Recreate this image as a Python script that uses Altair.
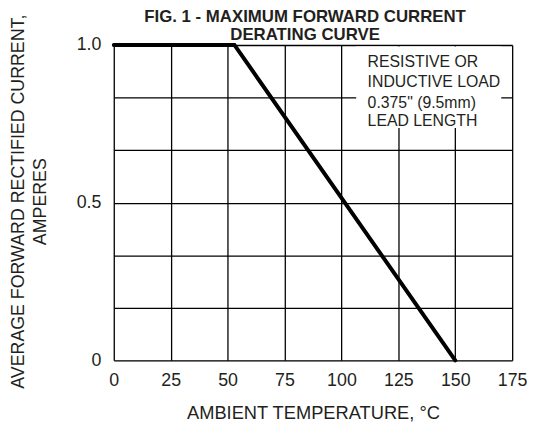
import altair as alt
import pandas as pd

# Derating curve points
temp = [0, 53, 150]
current = [1.0, 1.0, 0.0]

x_ticks = [0, 25, 50, 75, 100, 125, 150, 175]
y_grid = [0, 1/6, 2/6, 0.5, 4/6, 5/6, 1.0]

note_lines = ["RESISTIVE OR", "INDUCTIVE LOAD", "0.375\" (9.5mm)", "LEAD LENGTH"]
note_y = [0.945, 0.883, 0.815, 0.759]
note_x = [111.5] * 4

box_x = [106.5]
box_x2 = [170.2]
box_y = [0.995]
box_y2 = [0.737]

FONT = "Liberation Sans"
TXT = "#231f20"

curve_df = pd.DataFrame({"t": temp, "i": current})
note_df = pd.DataFrame({"t": note_x, "i": note_y, "label": note_lines})
box_df = pd.DataFrame({"x": box_x, "x2": box_x2, "y": box_y, "y2": box_y2})

xscale = alt.Scale(domain=[0, 175], nice=False, zero=False)
yscale = alt.Scale(domain=[0, 1], nice=False)

label_expr = "datum.value == 0 ? '0' : (abs(datum.value - 0.5) < 0.001 ? '0.5' : (datum.value == 1 ? '1.0' : ''))"

curve = alt.Chart(curve_df).mark_line(color="black", strokeWidth=4, strokeCap="round", strokeJoin="miter").encode(
    x=alt.X("t:Q", scale=xscale, axis=alt.Axis(
        values=x_ticks, title="AMBIENT TEMPERATURE, °C", grid=True, gridColor="black", gridWidth=1.3,
        gridOpacity=1, domain=False, ticks=False, labelPadding=11, labelFontSize=18, labelFont=FONT,
        labelColor=TXT, titleFontSize=18.5, titleFont=FONT, titleColor=TXT, titleFontWeight="normal",
        titleY=53, titleBaseline="middle", labelFlush=False)),
    y=alt.Y("i:Q", scale=yscale, axis=alt.Axis(
        values=y_grid, labelExpr=label_expr, title=["AVERAGE FORWARD RECTIFIED CURRENT,", "AMPERES"],
        grid=True, gridColor="black", gridWidth=1.3, gridOpacity=1, domain=False, ticks=False,
        labelPadding=13, labelFontSize=18, labelFont=FONT, labelColor=TXT, labelFlush=False,
        titleFontSize=18, titleFont=FONT, titleColor=TXT, titleFontWeight="normal",
        titleX=-96.5, titleY=158, titleAngle=-90, titleBaseline="middle", titleLineHeight=22,
        titleAlign="center")),
)

box = alt.Chart(box_df).mark_rect(fill="white").encode(
    x=alt.X("x:Q", scale=xscale), x2="x2:Q",
    y=alt.Y("y:Q", scale=yscale), y2="y2:Q",
)

note = alt.Chart(note_df).mark_text(align="left", baseline="middle", font=FONT, fontSize=16, color=TXT).encode(
    x=alt.X("t:Q", scale=xscale), y=alt.Y("i:Q", scale=yscale), text="label:N"
)

chart = alt.layer(box, curve, note).properties(
    width=403, height=319,
    title=alt.TitleParams(["FIG. 1 - MAXIMUM FORWARD CURRENT", "DERATING CURVE"], font=FONT,
                          fontSize=17, fontWeight="bold", color=TXT, anchor="middle",
                          frame="group", baseline="bottom",
                          lineHeight=18, offset=0, dx=-8, dy=47),
    padding={"left": 107, "top": 35, "right": 15, "bottom": 64},
    autosize=alt.AutoSizeParams(type="none"),
).configure_view(stroke="black", strokeWidth=2.2).configure(background="white")

chart.save("out.html", embed_options={"renderer": "svg", "actions": False})
